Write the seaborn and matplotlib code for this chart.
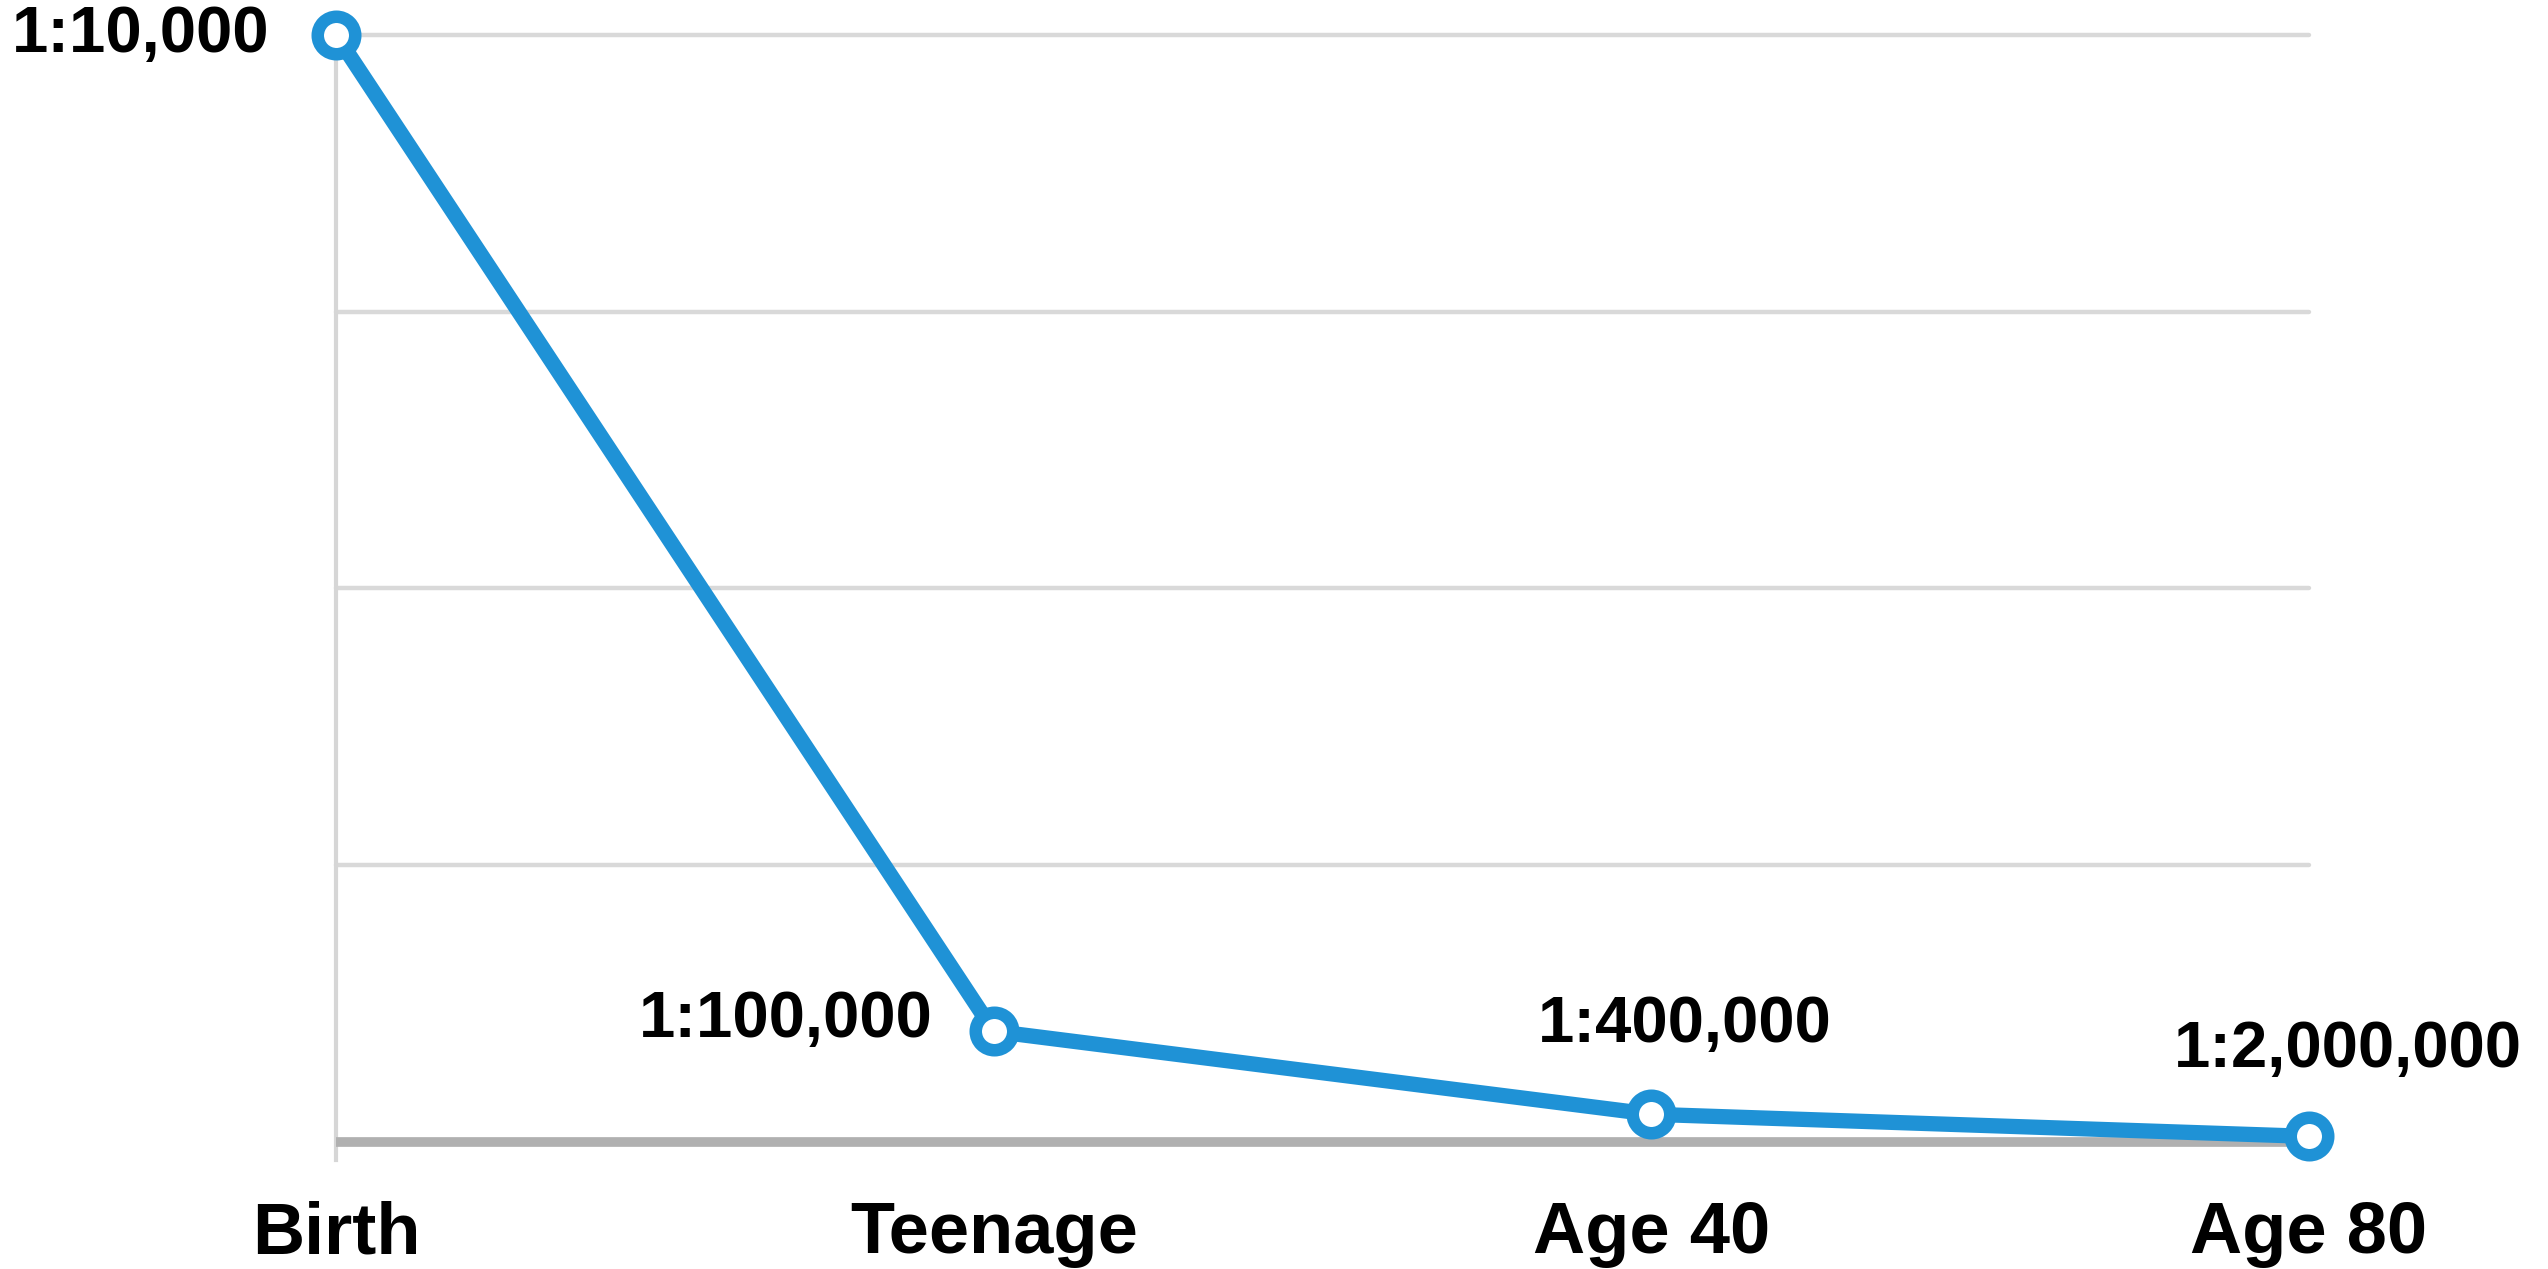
import matplotlib
matplotlib.use("Agg")
import matplotlib.pyplot as plt
import seaborn as sns
import pandas as pd

# Odds by life stage (1 in N)
stages = ["Birth", "Teenage", "Age 40", "Age 80"]
odds_denominators = [10000, 100000, 400000, 2000000]
risk = [1.0 / d for d in odds_denominators]
odds_labels = [f"1:{d:,}" for d in odds_denominators]

sns.set_theme(style="white")
plt.rcParams["font.family"] = ["Liberation Sans", "DejaVu Sans"]
plt.rcParams["font.weight"] = "bold"

df = pd.DataFrame({"stage": stages, "risk": risk})

fig = plt.figure(figsize=(25.48, 12.69), dpi=100)
ax = fig.add_axes([0.1319, 0.0859, 0.9062 - 0.1319, 0.9724 - 0.0859])

line_color = "#1f92d6"
sns.lineplot(data=df, x="stage", y="risk", ax=ax, sort=False,
             color=line_color, linewidth=11, marker="o", markersize=27,
             markerfacecolor="white", markeredgecolor=line_color,
             markeredgewidth=9, clip_on=False, zorder=5)

ax.set_xlim(0, len(stages) - 1)
ax.set_ylim(-1.63e-6, 1e-4)

# Horizontal guide lines and baseline
for g in [0.25e-4, 0.5e-4, 0.75e-4, 1e-4]:
    ax.axhline(g, color="#d9d9d9", linewidth=3.2, zorder=1, clip_on=False)
ax.axhline(0, color="#b0b0b0", linewidth=7, zorder=2)

for s in ["top", "right", "bottom"]:
    ax.spines[s].set_visible(False)
ax.spines["left"].set_color("#d6d6d6")
ax.spines["left"].set_linewidth(3.0)
ax.spines["left"].set_zorder(1)

ax.set_yticks([])
ax.set_xticks(range(len(stages)))
ax.set_xticklabels(stages, fontsize=52, fontweight="bold", color="black")
ax.tick_params(axis="x", length=0, pad=29)
ax.set_xlabel("")
ax.set_ylabel("")

# Value annotations
offsets = [(-48, 0, "right"), (-44, 8, "right"), (24, 64, "center"), (28, 62, "center")]
for i, (lab, (dx, dy, ha)) in enumerate(zip(odds_labels, offsets)):
    ax.annotate(lab, xy=(i, risk[i]), xytext=(dx, dy), textcoords="offset points",
                ha=ha, va="center", fontsize=47, fontweight="bold",
                color="black", annotation_clip=False)

fig.savefig("out.png", dpi=100, facecolor="white")
